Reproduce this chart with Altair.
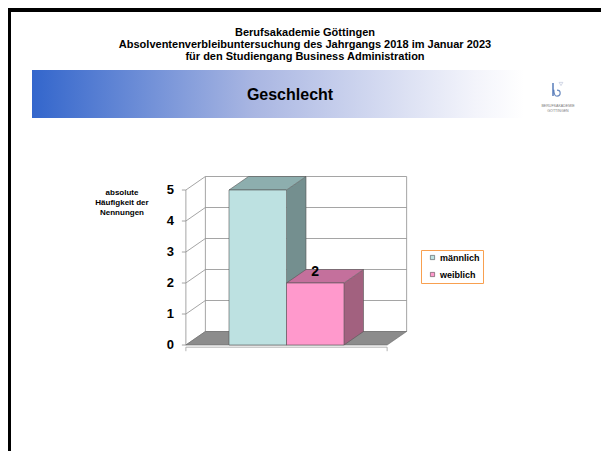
import altair as alt
import pandas as pd

# ---- data -------------------------------------------------------------
categories = ["männlich", "weiblich"]
values = [5, 2]
shown_value_labels = ["weiblich"]          # only this bar carries a data label
y_ticks = [0, 1, 2, 3, 4, 5]
title_lines = [
    "Berufsakademie Göttingen",
    "Absolventenverbleibuntersuchung des Jahrgangs 2018 im Januar 2023",
    "für den Studiengang Business Administration",
]
section_title = "Geschlecht"
y_title_lines = ["absolute", "Häufigkeit der", "Nennungen"]

# ---- styles -----------------------------------------------------------
front_colors = ["#BDE1E1", "#FF99CC"]
top_colors = ["#8DAEAE", "#C4709C"]
side_colors = ["#748F8F", "#A2617F"]
FONT = "Liberation Sans"

# ---- layout (scale units) -------------------------------------------
W, H = 593, 443
PX_X = 57.5          # pixels per category unit
PX_Y = 31.0          # pixels per value unit
X0, Y0 = 221, 337    # pixel of category 0 / value 0
DX = 19.5 / PX_X     # 3-D depth (x)
DY = 13.5 / PX_Y     # 3-D depth (y)
GAP = 0.75           # floor margin left/right of bars
n = len(categories)
FL, FR = -GAP, n + GAP

xs = alt.Scale(domain=[-X0 / PX_X, (W - X0) / PX_X], nice=False, zero=False)
ys = alt.Scale(domain=[(Y0 - H) / PX_Y, Y0 / PX_Y], nice=False, zero=False)

def X(f):
    return alt.X(f, type="quantitative", scale=xs, axis=None)

def Y(f):
    return alt.Y(f, type="quantitative", scale=ys, axis=None)

# ---- tables -----------------------------------------------------------
bars = pd.DataFrame({"cat": categories, "val": values, "i": range(n)})

top_rows, side_rows, edge_rows = [], [], []
for i, (c, v) in enumerate(zip(categories, values)):
    for (x, y, y2) in [
        (i, v, v), (i + DX, v, v + DY), (i + 1, v, v + DY), (i + 1 + DX, v + DY, v + DY)
    ]:
        top_rows.append({"cat": c, "x": x, "y": y, "y2": y2, "shade": top_colors[i]})
    for (x, y, y2) in [(i + 1, 0, v), (i + 1 + DX, DY, v + DY)]:
        side_rows.append({"cat": c, "x": x, "y": y, "y2": y2, "shade": side_colors[i]})
    pts = [(i, v), (i + DX, v + DY), (i + 1 + DX, v + DY), (i + 1, v)]
    for a, b in zip(pts, pts[1:] + pts[:1]):
        edge_rows.append({"cat": c, "x": a[0], "y": a[1], "x2": b[0], "y2": b[1]})
    edge_rows.append({"cat": c, "x": i + 1, "y": 0, "x2": i + 1 + DX, "y2": DY})
    edge_rows.append({"cat": c, "x": i + 1 + DX, "y": DY, "x2": i + 1 + DX, "y2": v + DY})
tops = pd.DataFrame(top_rows)
sides = pd.DataFrame(side_rows)
edges = pd.DataFrame(edge_rows)

floor = pd.DataFrame({
    "x": [FL, FL + DX, FR, FR + DX],
    "y": [0, 0, 0, DY],
    "y2": [0, DY, DY, DY],
})
fpts = [(FL, 0), (FL + DX, DY), (FR + DX, DY), (FR, 0)]
floor_edges = pd.DataFrame([{"x": a[0], "y": a[1], "x2": b[0], "y2": b[1]}
                            for a, b in zip(fpts, fpts[1:] + fpts[:1])])

grid_rows = []
for t in y_ticks:
    grid_rows.append({"x": FL + DX, "x2": FR + DX, "y": t + DY, "y2": t + DY})   # back wall
    grid_rows.append({"x": FL, "x2": FL + DX, "y": t, "y2": t + DY})             # side wall
top_t = max(y_ticks)
grid_rows += [
    {"x": FL, "x2": FL, "y": 0, "y2": top_t},
    {"x": FL + DX, "x2": FL + DX, "y": DY, "y2": top_t + DY},
    {"x": FR + DX, "x2": FR + DX, "y": DY, "y2": top_t + DY},
]
grid = pd.DataFrame(grid_rows)

ticks = pd.DataFrame({"t": y_ticks, "lab": [str(t) for t in y_ticks]})
xaxis = pd.DataFrame({"x": [FL, FL, FR], "x2": [FR, FL, FR],
                      "y": [-0.07, -0.07, -0.07], "y2": [-0.07, -0.2, -0.2]})

one = pd.DataFrame({"a": [0]})

# ---- decorations --------------------------------------------------------
frame = alt.Chart(one).mark_rule(color="black", strokeWidth=4).encode(
    x=alt.value(0), x2=alt.value(W), y=alt.value(2))
frame_l = alt.Chart(one).mark_rule(color="black", strokeWidth=3).encode(
    x=alt.value(1.5), y=alt.value(0), y2=alt.value(H))

grad = alt.Gradient(
    gradient="linear",
    stops=[alt.GradientStop(color="#3366CC", offset=0),
           alt.GradientStop(color="#A9B6E2", offset=0.45),
           alt.GradientStop(color="#F3F4FB", offset=0.9),
           alt.GradientStop(color="#FFFFFF", offset=1)],
    x1=0, x2=1, y1=0, y2=0)
banner = alt.Chart(one).mark_rect(color=grad).encode(
    x=alt.value(24), x2=alt.value(516), y=alt.value(62), y2=alt.value(110))

titles = alt.Chart(one).mark_text(
    text=title_lines, font=FONT, fontSize=11, fontWeight="bold", lineHeight=12,
    align="center", baseline="top", color="black").encode(
    x=alt.value(297), y=alt.value(19))

sect = alt.Chart(one).mark_text(
    text=section_title, font=FONT, fontSize=16, fontWeight="bold",
    align="center", baseline="middle", color="black").encode(
    x=alt.value(282), y=alt.value(87))

logo_line = alt.Chart(one).mark_rule(color="#2E5CA8", strokeWidth=1.2).encode(
    x=alt.value(545), x2=alt.value(545), y=alt.value(75), y2=alt.value(88))
logo_hook = alt.Chart(one).mark_point(
    shape="M -1 -1 C -1 0.4 -0.6 1 0 1 C 0.6 1 1 0.6 1 0 C 1 -0.6 0.5 -0.9 0 -0.9",
    size=40, color="#2E5CA8", strokeWidth=1.2, filled=False).encode(
    x=alt.value(549), y=alt.value(85))
logo_tri = alt.Chart(one).mark_point(shape="triangle-down", size=14, color="#9AA6C8",
                                     strokeWidth=0.6, filled=False).encode(
    x=alt.value(553), y=alt.value(76))
logo_text = alt.Chart(one).mark_text(
    text=["BERUFSAKADEMIE", "GÖTTINGEN"], font=FONT, fontSize=3.6, lineHeight=5,
    align="center", baseline="top", color="#7A7A7A").encode(
    x=alt.value(550), y=alt.value(96))

# ---- 3-D chart ----------------------------------------------------------
grid_layer = alt.Chart(grid).mark_rule(color="#8E8E8E", strokeWidth=0.8).encode(
    x=X("x"), x2="x2", y=Y("y"), y2="y2")

floor_layer = alt.Chart(floor).mark_area(
    color="#8C8C8C", opacity=1, interpolate="linear").encode(
    x=X("x"), y=Y("y"), y2="y2")
floor_edge_layer = alt.Chart(floor_edges).mark_rule(color="#6A6A6A", strokeWidth=0.6).encode(
    x=X("x"), x2="x2", y=Y("y"), y2="y2")

tick_marks = alt.Chart(ticks).mark_rule(color="#8E8E8E", strokeWidth=0.8).encode(
    x=alt.value(X0 + FL * PX_X - 4), x2=alt.value(X0 + FL * PX_X), y=Y("t"))

xaxis_layer = alt.Chart(xaxis).mark_rule(color="#A0A0A0", strokeWidth=0.8).encode(
    x=X("x"), x2="x2", y=Y("y"), y2="y2")

tick_labels = alt.Chart(ticks).mark_text(
    font=FONT, fontSize=13, fontWeight="bold", align="right", baseline="middle",
    color="black").encode(x=alt.value(166), y=Y("t"), text="lab:N")

y_title = alt.Chart(one).mark_text(
    text=y_title_lines, font=FONT, fontSize=8, fontWeight="bold", lineHeight=10,
    align="center", baseline="top", color="black").encode(
    x=alt.value(114), y=alt.value(181))

side_layer = alt.Chart(sides).mark_area(opacity=1, interpolate="linear").encode(
    x=X("x"), y=Y("y"), y2="y2", detail="cat:N",
    color=alt.Color("shade:N", scale=None))

top_layer = alt.Chart(tops).mark_area(opacity=1, interpolate="linear").encode(
    x=X("x"), y=Y("y"), y2="y2", detail="cat:N",
    color=alt.Color("shade:N", scale=None))

edge_layer = alt.Chart(edges).mark_rule(color="#555555", strokeWidth=0.6).encode(
    x=X("x"), x2="x2", y=Y("y"), y2="y2")

front_layer = alt.Chart(bars).transform_calculate(
    x0="datum.i", x1="datum.i + 1", base="0").mark_rect(
    stroke="#555555", strokeWidth=0.6).encode(
    x=X("x0"), x2="x1", y=Y("val"), y2="base:Q",
    fill=alt.Fill("cat:N", scale=alt.Scale(domain=categories, range=front_colors),
                  legend=alt.Legend(
                      title=None, orient="none", legendX=413, legendY=242,
                      direction="vertical", fillColor="white", strokeColor="#F8A050",
                      padding=3, symbolType="square", symbolSize=18,
                      symbolStrokeColor="#333333", symbolStrokeWidth=0.5,
                      symbolOffset=4, labelOffset=3, rowPadding=7,
                      labelFont=FONT, labelFontSize=9, labelFontWeight="bold",
                      labelColor="black", labelLimit=200)))

value_labels = alt.Chart(bars).transform_filter(
    alt.FieldOneOfPredicate(field="cat", oneOf=shown_value_labels)
).transform_calculate(xm="datum.i + 0.5", lab="format(datum.val, 'd')").mark_text(
    font=FONT, fontSize=14, fontWeight="bold", align="center", baseline="middle",
    dy=-11, color="black").encode(x=X("xm"), y=Y("val"), text="lab:N")

# draw each bar's side, top and front in turn (left bar first)
bar_layers = []
for c in categories:
    pred = alt.FieldEqualPredicate(field="cat", equal=c)
    bar_layers += [
        side_layer.transform_filter(pred),
        top_layer.transform_filter(pred),
        edge_layer.transform_filter(pred),
        front_layer.transform_filter(pred),
    ]

chart = alt.layer(
    banner, titles, sect, logo_line, logo_hook, logo_tri, logo_text,
    grid_layer, floor_layer, floor_edge_layer, xaxis_layer, tick_marks, tick_labels,
    y_title, *bar_layers, value_labels, frame, frame_l,
).properties(
    width=W, height=H, padding=0, autosize=alt.AutoSizeParams(type="none"),
    background="white",
).configure_view(stroke=None)

chart.save("out.html", embed_options={"renderer": "svg", "actions": False})
